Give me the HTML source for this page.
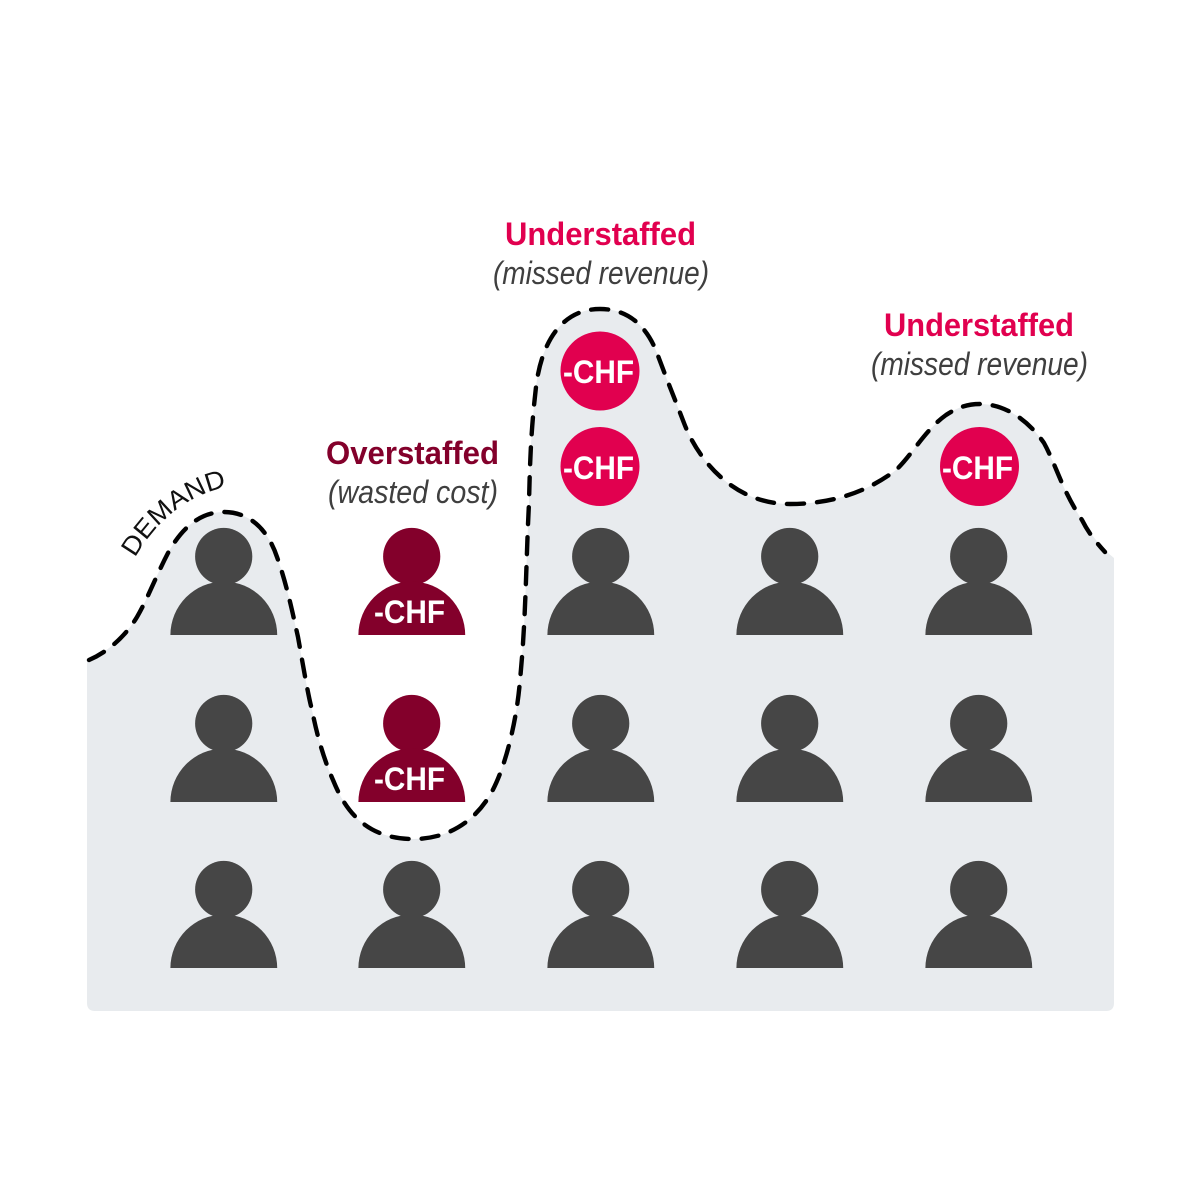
<!DOCTYPE html>
<html><head><meta charset="utf-8"><style>
html,body{margin:0;padding:0;background:#fff}
svg{display:block}
text{font-family:"Liberation Sans",sans-serif}
.t{font-size:32.5px;font-weight:bold}
.s{font-size:32px;font-style:italic;fill:#3f3f3f}
.c{font-size:32px;font-weight:bold;fill:#fff}
</style></head><body>
<svg xmlns="http://www.w3.org/2000/svg" width="1200" height="1200" viewBox="0 0 1200 1200">
<defs>
<g id="p"><circle cx="-0.3" cy="-78.5" r="28.6"/><path d="M-53.6 0A53.3 53.3 0 0 1 53.2 0Z"/></g>
</defs>
<rect width="1200" height="1200" fill="#fff"/>
<path fill="#e8ebee" d="M87 661C112 650 128 632 137 617C148 598 156 576 168 553C178 535 195 512 224 512C250 512 268 530 277 557C287 585 293 615 298 637C303 665 308 695 312 710C316 730 322 755 333 780C342 802 360 839 413 839C450 839 475 820 490 795C505 770 517 720 520 680C526 620 526 560 529 503C530 460 531 430 536 387C541 345 560 309 600 309C635 309 650 335 657 353C665 375 674 397 684 423C696 455 730 504 790 504C835 504 870 490 896 470C912 455 925 430 946 415C958 407 968 404 980 404C1005 404 1028 420 1044 443C1056 465 1062 490 1082 520C1090 533 1100 547 1114 558V1003Q1114 1011 1106 1011H95Q87 1011 87 1003Z"/>
<path fill="none" stroke="#000" stroke-width="4.4" stroke-linecap="round" stroke-dasharray="17 13" d="M89 660C112 650 128 632 137 617C148 598 156 576 168 553C178 535 195 512 224 512C250 512 268 530 277 557C287 585 293 615 298 637C303 665 308 695 312 710C316 730 322 755 333 780C342 802 360 839 413 839C450 839 475 820 490 795C505 770 517 720 520 680C526 620 526 560 529 503C530 460 531 430 536 387C541 345 560 309 600 309C635 309 650 335 657 353C665 375 674 397 684 423C696 455 730 504 790 504C835 504 870 490 896 470C912 455 925 430 946 415C958 407 968 404 980 404C1005 404 1028 420 1044 443C1056 465 1062 490 1082 520C1088 532 1095 541 1105 552"/>

<g fill="#464646">
<use href="#p" x="224" y="635"/><use href="#p" x="601" y="635"/><use href="#p" x="790" y="635"/><use href="#p" x="979" y="635"/>
<use href="#p" x="224" y="802"/><use href="#p" x="601" y="802"/><use href="#p" x="790" y="802"/><use href="#p" x="979" y="802"/>
<use href="#p" x="224" y="968"/><use href="#p" x="412" y="968"/><use href="#p" x="601" y="968"/><use href="#p" x="790" y="968"/><use href="#p" x="979" y="968"/>
</g>
<g fill="#83002b"><use href="#p" x="412" y="635"/><use href="#p" x="412" y="802"/></g>
<g fill="#e1004f"><circle cx="600" cy="371" r="39.5"/><circle cx="600" cy="466.5" r="39.5"/><circle cx="979.5" cy="466.5" r="39.5"/></g>

<text class="c" x="374" y="623" textLength="71" lengthAdjust="spacingAndGlyphs">-CHF</text>
<text class="c" x="374" y="790" textLength="71" lengthAdjust="spacingAndGlyphs">-CHF</text>
<text class="c" x="563" y="383" textLength="71" lengthAdjust="spacingAndGlyphs">-CHF</text>
<text class="c" x="563" y="479" textLength="71" lengthAdjust="spacingAndGlyphs">-CHF</text>
<text class="c" x="942" y="479" textLength="71" lengthAdjust="spacingAndGlyphs">-CHF</text>

<text class="t" fill="#e1004f" x="505" y="245" textLength="191" lengthAdjust="spacingAndGlyphs">Understaffed</text>
<text class="s" x="493" y="284" textLength="216" lengthAdjust="spacingAndGlyphs">(missed revenue)</text>
<text class="t" fill="#e1004f" x="884" y="336" textLength="190" lengthAdjust="spacingAndGlyphs">Understaffed</text>
<text class="s" x="871" y="375" textLength="217" lengthAdjust="spacingAndGlyphs">(missed revenue)</text>
<text class="t" fill="#83002b" x="326" y="464" textLength="173" lengthAdjust="spacingAndGlyphs">Overstaffed</text>
<text class="s" x="328" y="503" textLength="170" lengthAdjust="spacingAndGlyphs">(wasted cost)</text>

<path id="dm" fill="none" d="M135 558Q170 497 234 485"/>
<text font-size="26" fill="#111"><textPath href="#dm" textLength="120" lengthAdjust="spacingAndGlyphs">DEMAND</textPath></text>
</svg>
</body></html>
